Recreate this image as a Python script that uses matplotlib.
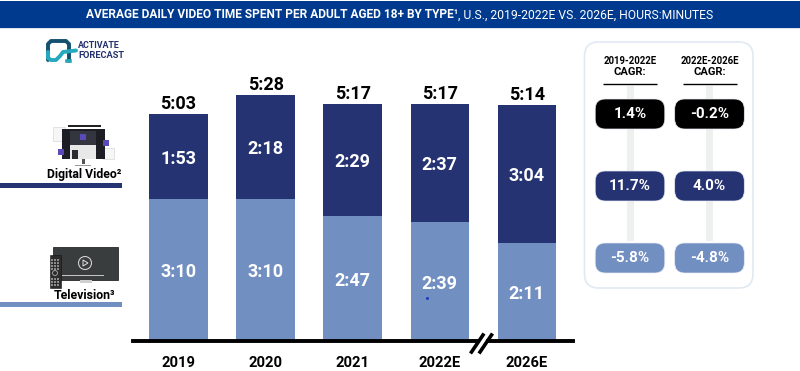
import matplotlib
matplotlib.use("Agg")
import matplotlib.pyplot as plt
from matplotlib.patches import FancyBboxPatch, Rectangle, Circle, Polygon

plt.rcParams['font.family'] = ['Roboto', 'DejaVu Sans']

# ---- data (minutes) ----
years = ["2019", "2020", "2021", "2022E", "2026E"]
tv_min = [190, 190, 167, 159, 131]
dv_min = [113, 138, 149, 157, 184]
tv_lab = ["3:10", "3:10", "2:47", "2:39", "2:11"]
dv_lab = ["1:53", "2:18", "2:29", "2:37", "3:04"]
tot_lab = ["5:03", "5:28", "5:17", "5:17", "5:14"]
cagr_heads = ["2019-2022E", "2022E-2026E"]
cagr_total = ["1.4%", "-0.2%"]
cagr_dv = ["11.7%", "4.0%"]
cagr_tv = ["-5.8%", "-4.8%"]

NAVY = "#263373"
LIGHT = "#728FC1"
HEAD = "#003A8F"
W, H = 800, 371

fig = plt.figure(figsize=(8, 3.71), dpi=100, facecolor="white")

# overlay in pixel coordinates for furniture
bg = fig.add_axes([0, 0, 1, 1])
bg.set_xlim(0, W); bg.set_ylim(H, 0); bg.axis("off")

bg.add_patch(Rectangle((0, 1), W, 27, color=HEAD, lw=0))
bg.add_patch(Rectangle((0, 28), W, 1, color="#DDE5F0", lw=0))
t1 = bg.text(85.5, 15, "AVERAGE DAILY VIDEO TIME SPENT PER ADULT AGED 18+ BY TYPE¹", color="white",
             fontsize=8.6, fontweight="bold", va="center", ha="left")
fig.canvas.draw()
bb = t1.get_window_extent()
bg.text(bb.x1 + 0.5, 15, ", U.S., 2019-2022E VS. 2026E, HOURS:MINUTES", color="white",
        fontsize=8.7, va="center", ha="left")

# logo
bg.plot([48, 48, 51, 66, 69, 69], [60, 44, 41, 41, 44, 61], color="#14506F", lw=2.8, solid_capstyle="round")
bg.plot([48, 48, 51, 56, 60, 63, 76], [52, 58, 60, 60, 56, 52, 50.5], color="#25A9BE", lw=2.8, solid_capstyle="round")
bg.plot([66.5, 70], [60.5, 60.5], color="#25A9BE", lw=2.6)
bg.text(78, 45.5, "ACTIVATE", color="#23306F", fontsize=6.4, fontweight="bold", va="center", ha="left")
bg.text(78, 55, "FORECAST", color="#23306F", fontsize=6.7, fontweight="bold", va="center", ha="left")

# digital video icon
for (x, y, w, h) in [(53, 127, 12, 14), (103, 148, 11, 11)]:
    bg.add_patch(Rectangle((x, y), w, h, fc="#F6F6F6", ec="#DEDEDE", lw=0.6))
bg.add_patch(Rectangle((62, 129), 43, 30, fc="#1D1D26", lw=0))
bg.add_patch(Rectangle((68, 125), 33, 2, fc="#222222", lw=0))
bg.add_patch(Rectangle((70, 131), 26, 14, fc="#33363F", lw=0))
bg.add_patch(Rectangle((70, 145), 26, 14, fc="#E8E8E8", lw=0))
bg.add_patch(Rectangle((80, 134), 6, 6, fc="#5A49B8", lw=0))
bg.add_patch(Rectangle((57.5, 149), 6.5, 6, fc="#5A49B8", lw=0))
bg.add_patch(Rectangle((102.5, 140), 6, 6, fc="#5A49B8", lw=0))
bg.add_patch(Rectangle((72, 150), 6, 9, fc="#2A2A33", lw=0))
bg.add_patch(Rectangle((82, 159), 3, 5, fc="#555555", lw=0))
bg.add_patch(Rectangle((75, 165), 16, 1, fc="#999999", lw=0))
bg.text(84.5, 174.5, "Digital Video²", color="black", fontsize=8.8, fontweight="bold", va="center", ha="center")
bg.add_patch(Rectangle((0, 183), 122, 4.5, fc=NAVY, lw=0))

# TV icon
bg.add_patch(Rectangle((53, 247), 65, 33, fc="#3A3D3E", ec="#111111", lw=0.5))
bg.add_patch(Circle((85, 263), 6.5, fc="none", ec="#D0D0D0", lw=0.8))
bg.add_patch(Polygon([(83, 260), (83, 266), (88, 263)], fc="none", ec="#E0E0E0", lw=0.7))
bg.add_patch(Rectangle((62, 275), 42, 1.2, fc="#C4C4C4", lw=0))
bg.add_patch(Rectangle((80, 280), 12, 2.5, fc="#D0D0D0", lw=0))
bg.add_patch(Rectangle((49.5, 255), 11, 32.5, fc="#2C2C2C", ec="#111111", lw=0.4))
for bx in (51, 54, 57):
    for by in (259, 262, 265, 268, 278, 281, 284):
        bg.add_patch(Rectangle((bx, by), 2, 1.5, fc="#8C8C8C", lw=0))
bg.add_patch(Circle((55, 273), 2.5, fc="none", ec="#B0B0B0", lw=0.6))
bg.text(84.5, 295.5, "Television³", color="black", fontsize=8.9, fontweight="bold", va="center", ha="center")
bg.add_patch(Rectangle((0, 302), 122, 5, fc=LIGHT, lw=0))

# CAGR panel
bg.add_patch(FancyBboxPatch((584.5, 42), 168.5, 246, boxstyle="round,pad=0,rounding_size=14",
                            fc="white", ec="#E1E9F3", lw=1.2))
cols = [630, 709.5]
for cx, head, a, b, c in zip(cols, cagr_heads, cagr_total, cagr_dv, cagr_tv):
    bg.add_patch(Rectangle((cx - 3.5, 86), 7, 155, fc="#EEF0EF", lw=0))
    bg.text(cx, 60.7, head, color="black", fontsize=6.9, fontweight="bold", va="center", ha="center")
    bg.text(cx, 71.7, "CAGR:", color="black", fontsize=8, fontweight="bold", va="center", ha="center")
    bg.plot([cx - 27, cx + 27], [84, 84], color="black", lw=1, solid_capstyle="butt")
    for (yc, lab, col) in [(114, a, "black"), (186, b, NAVY), (258, c, LIGHT)]:
        bg.add_patch(FancyBboxPatch((cx - 34.8, yc - 15), 69.6, 30,
                                    boxstyle="round,pad=0,rounding_size=10", fc=col, ec="#E6EAF1", lw=0.5, zorder=3))
        bg.text(cx, yc + 0.5, lab, color="white", fontsize=11, fontweight="bold", va="center", ha="center", zorder=4)

# main chart
y0_px = 341
px_per_min = 0.749
left_px, right_px = 132.5, 573
top_px = 60
ax = fig.add_axes([left_px / W, 1 - y0_px / H, (right_px - left_px) / W, (y0_px - top_px) / H])
ax.patch.set_alpha(0)
xs = list(range(len(years)))
step = 87.1
ax.set_xlim((left_px - 178.5) / step, (right_px - 178.5) / step)
ax.set_ylim(0, (y0_px - top_px) / px_per_min)
barw = 58.5 / step
ax.bar(xs, tv_min, width=barw, color=LIGHT, lw=0, zorder=2)
ax.bar(xs, dv_min, bottom=tv_min, width=barw, color=NAVY, lw=0, zorder=2)

for x, tv, dv, a, b, c in zip(xs, tv_min, dv_min, tv_lab, dv_lab, tot_lab):
    for yv, lab in ((tv / 2, a), (tv + dv / 2, b)):
        ax.annotate(lab, (x, yv), xytext=(0, -1.6), textcoords="offset points", color="white", fontsize=13,
                    fontweight="bold", ha="center", va="center", zorder=3)
    ax.annotate(c, (x, tv + dv), xytext=(0, 1.0), textcoords="offset points", color="black", fontsize=13,
                fontweight="bold", ha="center", va="bottom", zorder=3)

for s in ["top", "left", "right"]:
    ax.spines[s].set_visible(False)
ax.spines["bottom"].set_linewidth(2.8)
ax.spines["bottom"].set_color("black")
ax.spines["bottom"].set_zorder(4)
ax.set_yticks([])
ax.set_xticks(xs)
ax.set_xticklabels(years, fontsize=10.6, fontweight="bold", color="black")
ax.tick_params(axis="x", length=0, pad=11)

# axis break marks (pixel overlay, above the chart)
top = fig.add_axes([0, 0, 1, 1])
top.set_xlim(0, W); top.set_ylim(H, 0); top.axis("off"); top.patch.set_alpha(0)
top.add_patch(Rectangle((478, 338), 8, 6, fc="white", lw=0))
top.plot([471.5, 483], [352, 335], color="black", lw=2.6)
top.plot([480, 491.5], [352, 335], color="black", lw=2.6)
top.plot([426.6], [297.5], marker="o", ms=1.2, color="#1F3FBF")

fig.savefig("out.png", dpi=100)
